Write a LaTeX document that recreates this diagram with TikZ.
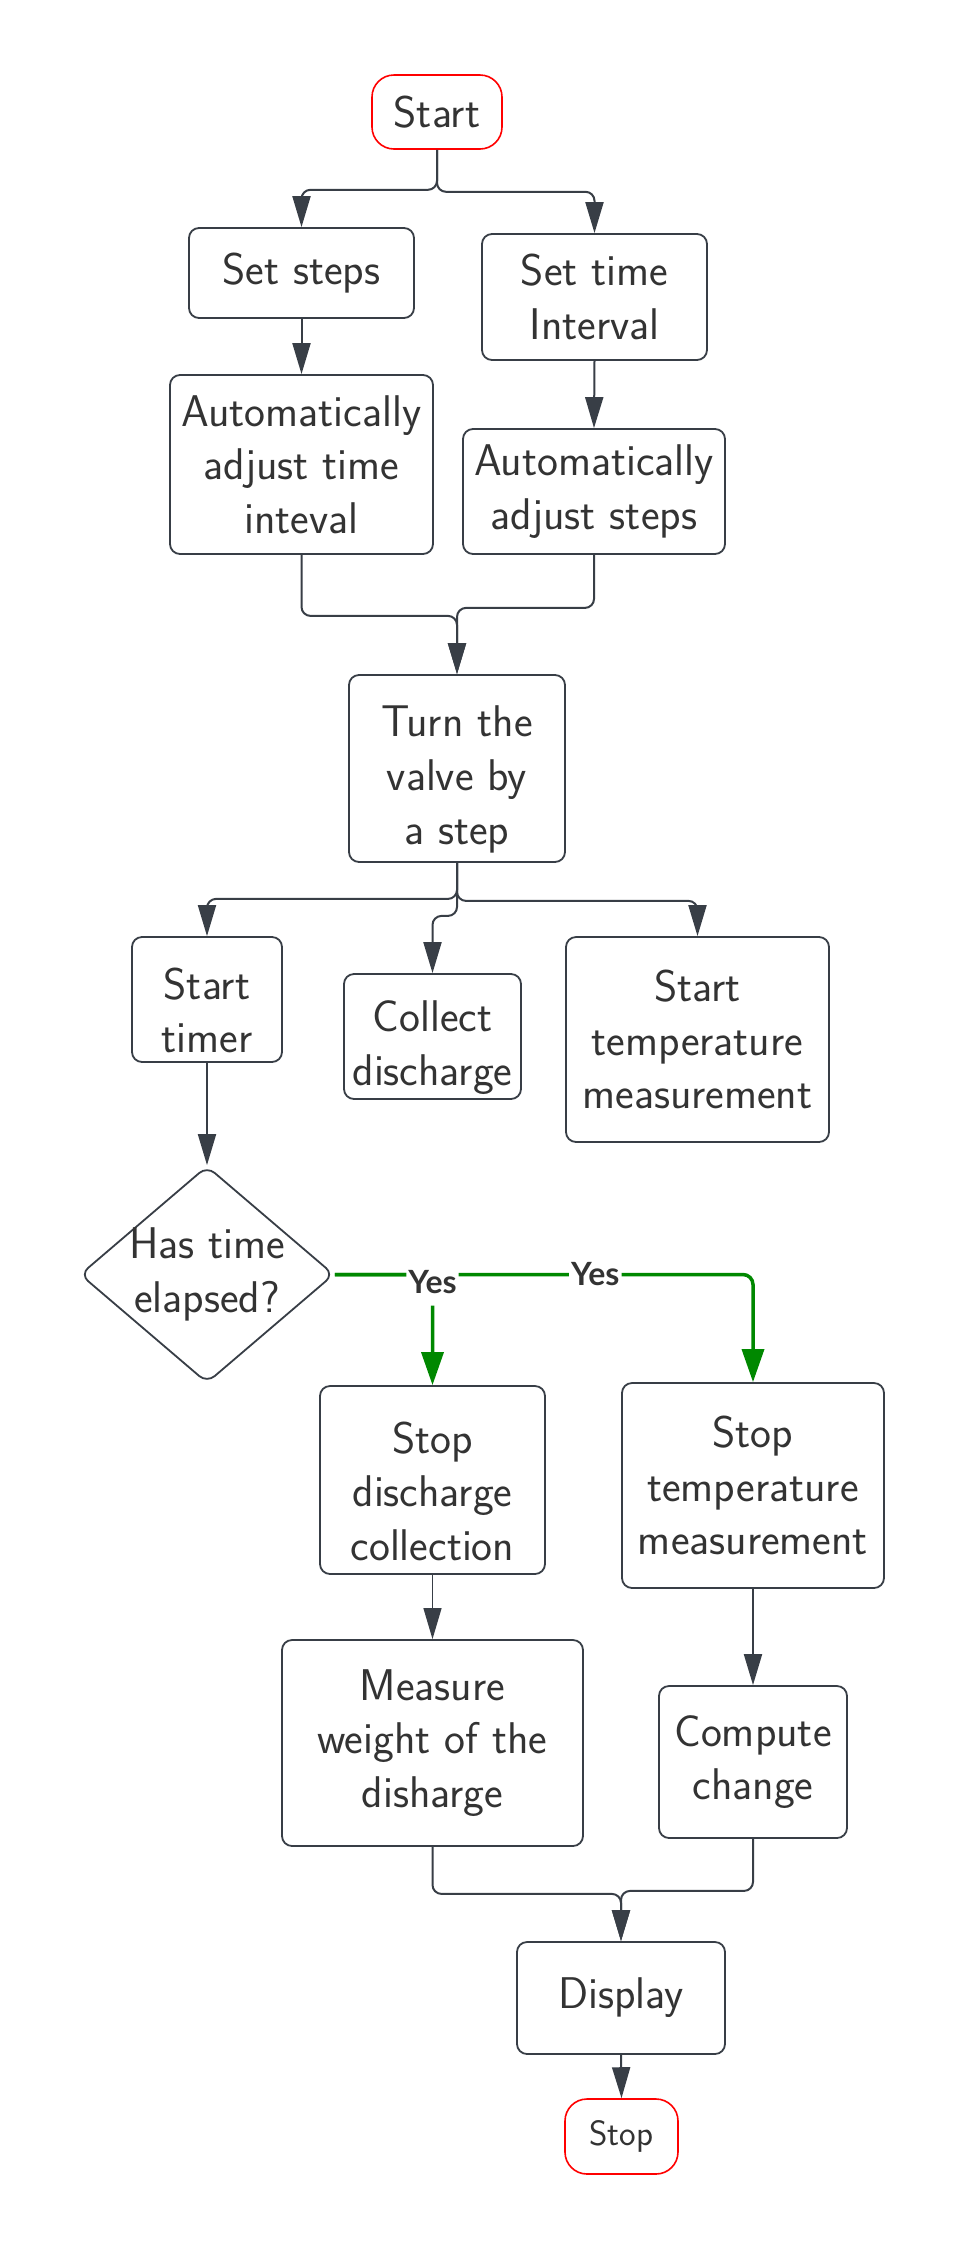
\documentclass[tikz,border=0pt]{standalone}
\usepackage{fontspec}
\newfontfamily\yesfont{Lato}
\usetikzlibrary{arrows.meta,shapes.geometric}
\definecolor{ln}{RGB}{56,62,70}
\definecolor{tx}{RGB}{51,51,51}
\definecolor{gr}{RGB}{0,136,0}
\definecolor{rd}{RGB}{255,0,0}
\tikzset{
  bodytext/.style={align=center, text=tx, font=\sffamily\fontsize{22.2}{26.8}\selectfont},
  box/.style={bodytext, draw=ln, line width=0.9pt, fill=white, rounded corners=5pt, inner sep=0pt},
  term/.style={box, draw=rd, line width=0.8pt, rounded corners=11pt},
  lowtext/.style={label={[bodytext, yshift=-5.5pt]center:{#1}}},
  conn/.style={draw=ln, line width=1pt, rounded corners=4.5pt, -{Triangle[length=15.5pt,width=9pt]}},
  yesconn/.style={draw=gr, line width=1.75pt, rounded corners=5pt, -{Triangle[length=16.5pt,width=11pt]}},
  yeslab/.style={fill=white, text=tx, font=\yesfont\bfseries\fontsize{16}{18}\selectfont, inner xsep=1pt, inner ysep=0pt, minimum height=23pt}
}
\begin{document}
\begin{tikzpicture}[x=0.5pt,y=-0.5pt]
\useasboundingbox (0,0) rectangle (956,2250);
% nodes
\node[term, minimum width=65pt, minimum height=37pt] (start) at (437,112) {Start};
\node[box, minimum width=112.5pt, minimum height=45pt] (setsteps) at (301.5,273) {Set steps};
\node[box, minimum width=112.5pt, minimum height=63pt] (settime) at (594.5,297) {Set time\\Interval};
\node[box, minimum width=131.5pt, minimum height=89.5pt] (adjtime) at (301.5,464.5) {Automatically\\adjust time\\inteval};
\node[box, minimum width=131pt, minimum height=62.5pt] (adjsteps) at (594,491.5) {Automatically\\adjust steps};
\node[box, minimum width=108pt, minimum height=93.5pt, lowtext={Turn the\\valve by\\a step}] (turn) at (457,768.5) {};
\node[box, minimum width=75pt, minimum height=62.5pt, lowtext={Start\\timer}] (timer) at (207,999.5) {};
\node[box, minimum width=88.5pt, minimum height=62.5pt, lowtext={Collect\\discharge}] (collect) at (432.5,1036.5) {};
\node[box, minimum width=131.5pt, minimum height=102.5pt] (starttemp) at (697.5,1039.5) {Start\\temperature\\measurement};
\node[diamond, draw=ln, line width=0.9pt, fill=white, rounded corners=5pt, minimum width=127pt, minimum height=108.5pt, inner sep=0pt] (dec) at (207,1274.5) {};
\node[bodytext] (dectext) at (dec.center) {Has time\\elapsed?};
\node[box, minimum width=112.5pt, minimum height=94pt, lowtext={Stop\\discharge\\collection}] (stopdis) at (432.5,1480) {};
\node[box, minimum width=131pt, minimum height=102.5pt] (stoptemp) at (753,1485.5) {Stop\\temperature\\measurement};
\node[box, minimum width=150.5pt, minimum height=103pt] (measure) at (432.5,1743) {Measure\\weight of the\\disharge};
\node[box, minimum width=94pt, minimum height=76pt] (compute) at (753,1762) {Compute\\change};
\node[box, minimum width=104pt, minimum height=56pt] (display) at (621,1998) {Display};
\node[term, minimum width=56.5pt, minimum height=37.5pt, font=\sffamily\fontsize{17.6}{21}\selectfont] (stop) at (621.5,2136.5) {Stop};
% connectors
\draw[conn] (start.south) -- ++(0,40) -| (setsteps.north);
\draw[conn] (start.south) -- ++(0,42) -| (settime.north);
\draw[conn] (setsteps.south) -- (adjtime.north);
\draw[conn] (settime.south) -- (adjsteps.north);
\draw[conn] (adjtime.south) -- ++(0,61) -| (turn.north);
\draw[conn] (adjsteps.south) -- ++(0,53) -| (turn.north);
\draw[conn] (turn.south) -- ++(0,36) -| (timer.north);
\draw[conn] (turn.south) -- ++(0,53) -| (collect.north);
\draw[conn] (turn.south) -- ++(0,38) -| (starttemp.north);
\draw[conn] (timer.south) -- (dec.north);
\draw[yesconn] (dec.east) -| node[yeslab, pos=0.3115] {Yes} (stoptemp.north);
\draw[yesconn] (dec.east) -| node[yeslab, pos=0.5, yshift=-4pt] {Yes} (stopdis.north);
\draw[conn, line width=0.6pt] (stopdis.south) -- (measure.north);
\draw[conn] (stoptemp.south) -- (compute.north);
\draw[conn] (measure.south) -- ++(0,47) -| (display.north);
\draw[conn] (compute.south) -- ++(0,52) -| (display.north);
\draw[conn] (display.south) -- (stop.north);
\end{tikzpicture}
\end{document}
